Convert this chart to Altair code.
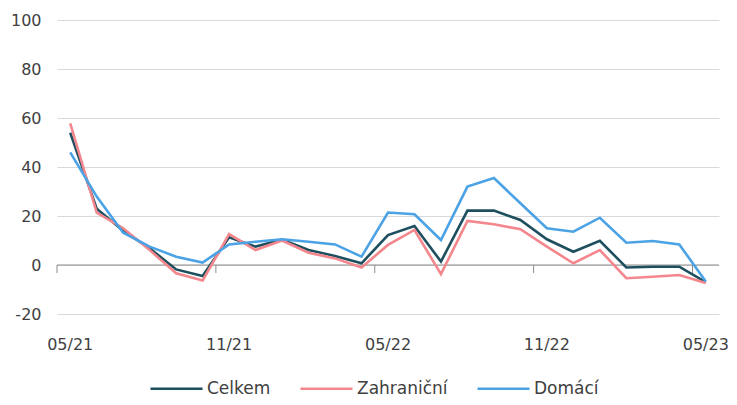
import altair as alt
import pandas as pd

months = ["05/21", "06/21", "07/21", "08/21", "09/21", "10/21", "11/21", "12/21",
          "01/22", "02/22", "03/22", "04/22", "05/22", "06/22", "07/22", "08/22",
          "09/22", "10/22", "11/22", "12/22", "01/23", "02/23", "03/23", "04/23", "05/23"]
celkem = [54, 23, 14, 6.8, -1.8, -4.5, 11.3, 7.5, 10.4, 6.1, 3.7, 0.7, 12.2, 15.9, 1.4,
          22.2, 22.2, 18.4, 10.5, 5.4, 9.9, -1, -0.7, -0.7, -7]
zahranicni = [57.8, 21.4, 15, 6.1, -3.4, -6.3, 12.6, 6.1, 10, 5, 2.7, -1, 8.2, 14.3, -3.7,
              18, 16.6, 14.6, 7.5, 0.7, 6.1, -5.4, -4.8, -4.1, -7.3]
domaci = [46, 27.9, 13.2, 7.5, 3.4, 1, 8.4, 9.5, 10.5, 9.5, 8.4, 3.4, 21.4, 20.7, 10.2,
          32, 35.5, 25.2, 15, 13.6, 19.3, 9.1, 9.8, 8.4, -6.7]
series_names = ["Celkem", "Zahraniční", "Domácí"]
series_colors = ["#1d4f5e", "#f4878d", "#4ba3e6"]
label_months = ["05/21", "11/21", "05/22", "11/22", "05/23"]
y_ticks = [-20, 0, 20, 40, 60, 80, 100]

rows = []
for name, vals in zip(series_names, [celkem, zahranicni, domaci]):
    for i, (m, v) in enumerate(zip(months, vals)):
        rows.append({"month": m, "value": v, "series": name, "idx": i})
df = pd.DataFrame(rows)

font = "DejaVu Sans"
xscale = alt.Scale(type="band", domain=months, paddingInner=0, paddingOuter=0)
yscale = alt.Scale(domain=[-20, 100], nice=False)

lines = alt.Chart(df).mark_line(strokeWidth=2.6).encode(
    x=alt.X("month:N", scale=xscale, bandPosition=0.5,
            axis=alt.Axis(values=label_months, title=None, ticks=False, domain=False,
                          bandPosition=0.5, labelAlign="center",
                          labelAngle=0, labelFont=font, labelFontSize=16,
                          labelColor="#404040", labelPadding=30, grid=False)),
    y=alt.Y("value:Q", scale=yscale,
            axis=alt.Axis(values=y_ticks, title=None, ticks=False, domain=False,
                          labelExpr="'' + datum.value",
                          labelFont=font, labelFontSize=16, labelColor="#404040",
                          labelPadding=16, grid=True, gridColor="#d9d9d9", gridWidth=1)),
    color=alt.Color("series:N", scale=alt.Scale(domain=series_names, range=series_colors),
                    legend=alt.Legend(orient="none", legendX=92, legendY=341,
                                      direction="horizontal", title=None,
                                      symbolType="stroke", symbolSize=2704,
                                      symbolStrokeWidth=2.6, labelFont=font,
                                      labelFontSize=17, labelColor="#404040",
                                      labelOffset=3, columnPadding=24)),
    order=alt.Order("idx:Q"),
)

zero_df = pd.DataFrame({"y": [0]})
zero = alt.Chart(zero_df).mark_rule(color="#8c8c8c", strokeWidth=1).encode(
    y=alt.Y("y:Q", scale=yscale)
)

tick_df = pd.DataFrame({"month": label_months, "y": [0] * 5, "y2": [-3.3] * 5})
ticks = alt.Chart(tick_df).mark_rule(color="#8c8c8c", strokeWidth=1).encode(
    x=alt.X("month:N", scale=xscale, bandPosition=0),
    y=alt.Y("y:Q", scale=yscale),
    y2="y2:Q",
)

chart = alt.layer(zero, ticks, lines).properties(
    width=662, height=294,
    autosize=alt.AutoSizeParams(type="none"),
    padding={"left": 49, "top": 12, "right": 10, "bottom": 83},
).configure_view(stroke=None)

chart.save("out.html", embed_options={"renderer": "svg", "actions": False})
